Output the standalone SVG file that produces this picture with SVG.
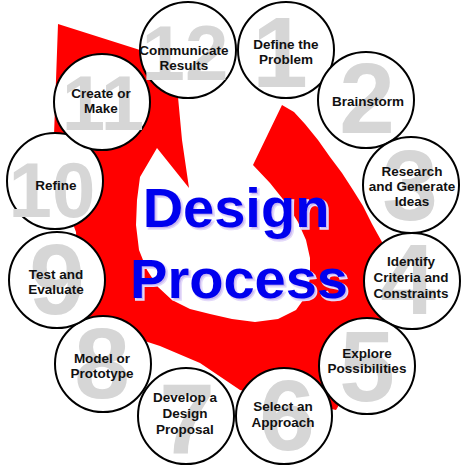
<svg xmlns="http://www.w3.org/2000/svg" width="474" height="467" viewBox="0 0 474 467">
<style>
.c{fill:#fff;stroke:#000;stroke-width:2}
.n{font-family:"Liberation Sans",Arial,sans-serif;font-weight:bold;fill:#d6d6d6;text-anchor:middle}
.n1{font-size:100px}
.n2{font-size:78px}
.t{font-family:"Liberation Sans",Arial,sans-serif;font-weight:bold;font-size:13.5px;fill:#111;text-anchor:middle}
.big{font-family:"Liberation Sans",Arial,sans-serif;font-weight:bold;font-size:56px;text-anchor:middle}
.sh{fill:#c8b6f0;stroke:#e4dafa;stroke-width:1.5}
.bl{fill:#0000ee}
</style>
<rect width="474" height="467" fill="#fff"/>
<g id="connectors">
<path id="cycle-arrow" fill="#ff0000" d="M58,24 L140,50 L168,58 L178,97 L182,140 L189,188 L157,148 L140,177 L137,200 L136,225 L139,250 L147,270 L158,287 L172,300 L190,309 L210,314 L232,319 L255,322 L278,319 L296,310 L306,296 L310,278 L310,258 L306,240 L298,222 L286,203 L270,183 L253,165 L282,105 L294,112 L305,124 L318,140 L330,157 L342,173 L353,190 L363,206 L372,224 L382,242 L392,265 L395,300 L385,325 L360,370 L336,410 L290,400 L240,390 L200,363 L160,346 L120,333 L82,322 L78,280 L76,232 L60,190 L54,135 L56,80 Z"/>
</g>
<g id="title" class="big">
<text class="sh" x="238" y="229">Design</text>
<text class="bl" x="236" y="227">Design</text>
<text class="sh" x="241" y="300">Process</text>
<text class="bl" x="239" y="298">Process</text>
</g>
<g id="step1"><circle class="c" cx="286" cy="50" r="48"/><text class="n n1" x="280" y="87">1</text><text class="t"><tspan x="286" y="49">Define the</tspan><tspan x="286" y="64">Problem</tspan></text></g>
<g id="step2"><circle class="c" cx="366" cy="100" r="48"/><text class="n n1" x="367" y="133">2</text><text class="t"><tspan x="368" y="106">Brainstorm</tspan></text></g>
<g id="step3"><circle class="c" cx="411" cy="185" r="48"/><text class="n n1" x="410" y="220">3</text><text class="t"><tspan x="412" y="176">Research</tspan><tspan x="412" y="191">and Generate</tspan><tspan x="412" y="206">Ideas</tspan></text></g>
<g id="step4"><circle class="c" cx="412" cy="281" r="48"/><text class="n n1" x="408" y="314">4</text><text class="t"><tspan x="411" y="266">Identify</tspan><tspan x="411" y="282">Criteria and</tspan><tspan x="411" y="298">Constraints</tspan></text></g>
<g id="step5"><circle class="c" cx="367" cy="366" r="48"/><text class="n n1" x="367" y="401">5</text><text class="t"><tspan x="367" y="358">Explore</tspan><tspan x="367" y="373">Possibilities</tspan></text></g>
<g id="step6"><circle class="c" cx="284" cy="416" r="48"/><text class="n n1" x="287" y="450">6</text><text class="t"><tspan x="283" y="411">Select an</tspan><tspan x="283" y="427">Approach</tspan></text></g>
<g id="step7"><circle class="c" cx="186" cy="416" r="48"/><text class="n n1" x="187" y="454">7</text><text class="t"><tspan x="185" y="402">Develop a</tspan><tspan x="185" y="418">Design</tspan><tspan x="185" y="434">Proposal</tspan></text></g>
<g id="step8"><circle class="c" cx="103" cy="364" r="48"/><text class="n n1" x="102" y="398">8</text><text class="t"><tspan x="102" y="363">Model or</tspan><tspan x="102" y="378">Prototype</tspan></text></g>
<g id="step9"><circle class="c" cx="57" cy="280" r="48"/><text class="n n1" x="57" y="314">9</text><text class="t"><tspan x="56" y="279">Test and</tspan><tspan x="56" y="294">Evaluate</tspan></text></g>
<g id="step10"><circle class="c" cx="55" cy="181" r="48"/><text class="n n2" x="52" y="217">10</text><text class="t"><tspan x="56" y="190">Refine</tspan></text></g>
<g id="step11"><circle class="c" cx="102" cy="102" r="48"/><text class="n n2" x="103" y="130">11</text><text class="t"><tspan x="101" y="98">Create or</tspan><tspan x="101" y="113">Make</tspan></text></g>
<g id="step12"><circle class="c" cx="188" cy="50" r="48"/><text class="n n2" x="185" y="80">12</text><text class="t"><tspan x="184" y="55">Communicate</tspan><tspan x="184" y="70">Results</tspan></text></g>
</svg>
